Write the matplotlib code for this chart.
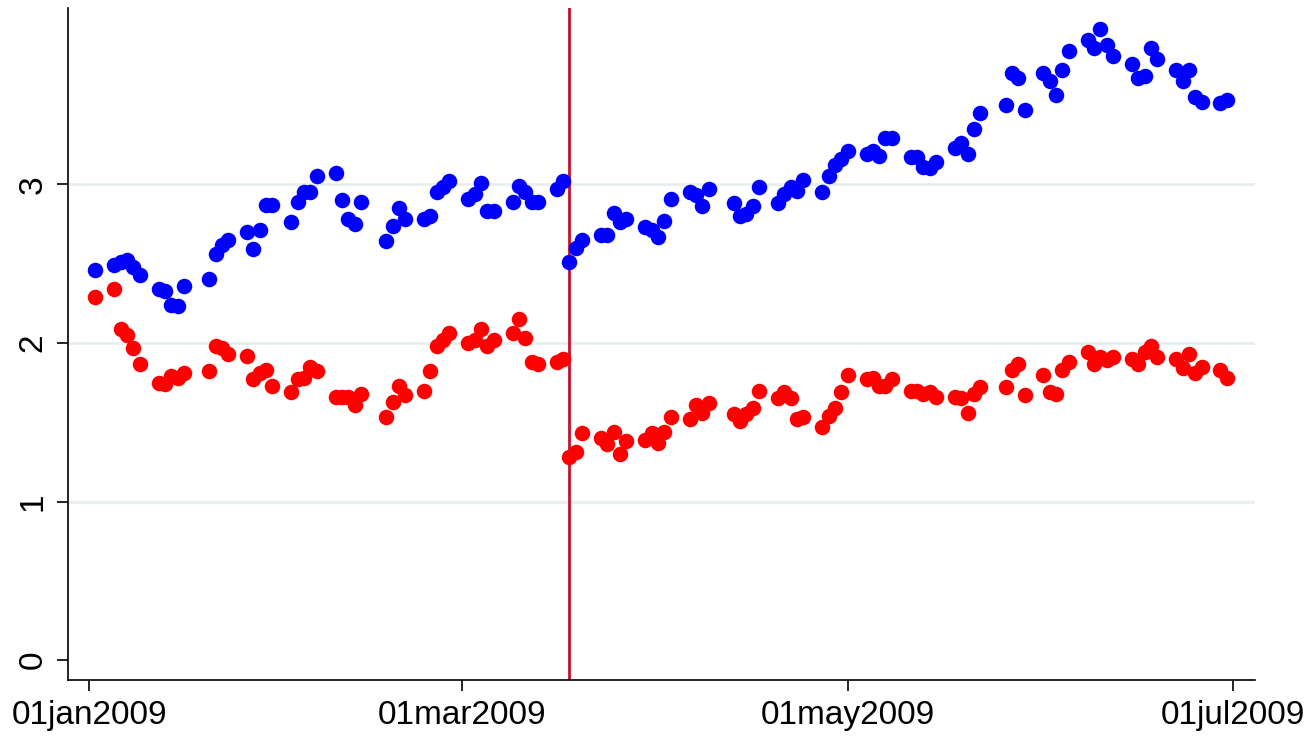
import numpy as np
import pandas as pd
import matplotlib
matplotlib.use('Agg')
import matplotlib.pyplot as plt
import matplotlib.dates as mdates

# business days, Jan 2 - Jun 30 2009 (market holidays skipped)
dates = [
    '2009-01-02',
    '2009-01-05', '2009-01-06', '2009-01-07', '2009-01-08', '2009-01-09',
    '2009-01-12', '2009-01-13', '2009-01-14', '2009-01-15', '2009-01-16',
    '2009-01-20', '2009-01-21', '2009-01-22', '2009-01-23',
    '2009-01-26', '2009-01-27', '2009-01-28', '2009-01-29', '2009-01-30',
    '2009-02-02', '2009-02-03', '2009-02-04', '2009-02-05', '2009-02-06',
    '2009-02-09', '2009-02-10', '2009-02-11', '2009-02-12', '2009-02-13',
    '2009-02-17', '2009-02-18', '2009-02-19', '2009-02-20',
    '2009-02-23', '2009-02-24', '2009-02-25', '2009-02-26', '2009-02-27',
    '2009-03-02', '2009-03-03', '2009-03-04', '2009-03-05', '2009-03-06',
    '2009-03-09', '2009-03-10', '2009-03-11', '2009-03-12', '2009-03-13',
    '2009-03-16', '2009-03-17', '2009-03-18', '2009-03-19', '2009-03-20',
    '2009-03-23', '2009-03-24', '2009-03-25', '2009-03-26', '2009-03-27',
    '2009-03-30', '2009-03-31', '2009-04-01', '2009-04-02', '2009-04-03',
    '2009-04-06', '2009-04-07', '2009-04-08', '2009-04-09',
    '2009-04-13', '2009-04-14', '2009-04-15', '2009-04-16', '2009-04-17',
    '2009-04-20', '2009-04-21', '2009-04-22', '2009-04-23', '2009-04-24',
    '2009-04-27', '2009-04-28', '2009-04-29', '2009-04-30', '2009-05-01',
    '2009-05-04', '2009-05-05', '2009-05-06', '2009-05-07', '2009-05-08',
    '2009-05-11', '2009-05-12', '2009-05-13', '2009-05-14', '2009-05-15',
    '2009-05-18', '2009-05-19', '2009-05-20', '2009-05-21', '2009-05-22',
    '2009-05-26', '2009-05-27', '2009-05-28', '2009-05-29',
    '2009-06-01', '2009-06-02', '2009-06-03', '2009-06-04', '2009-06-05',
    '2009-06-08', '2009-06-09', '2009-06-10', '2009-06-11', '2009-06-12',
    '2009-06-15', '2009-06-16', '2009-06-17', '2009-06-18', '2009-06-19',
    '2009-06-22', '2009-06-23', '2009-06-24', '2009-06-25', '2009-06-26',
    '2009-06-29', '2009-06-30',
]

blue = [
    2.46,
    2.49, 2.51, 2.52, 2.48, 2.43,
    2.34, 2.33, 2.24, 2.23, 2.36,
    2.40, 2.56, 2.62, 2.65,
    2.70, 2.59, 2.71, 2.87, 2.87,
    2.76, 2.89, 2.95, 2.95, 3.05,
    3.07, 2.90, 2.78, 2.75, 2.89,
    2.64, 2.74, 2.85, 2.78,
    2.78, 2.80, 2.95, 2.98, 3.02,
    2.91, 2.94, 3.01, 2.83, 2.83,
    2.89, 2.99, 2.95, 2.89, 2.89,
    2.97, 3.02, 2.51, 2.60, 2.65,
    2.68, 2.68, 2.82, 2.76, 2.78,
    2.73, 2.71, 2.67, 2.77, 2.91,
    2.95, 2.93, 2.86, 2.97,
    2.88, 2.80, 2.81, 2.86, 2.98,
    2.88, 2.94, 2.98, 2.96, 3.03,
    2.95, 3.05, 3.12, 3.16, 3.21,
    3.19, 3.21, 3.18, 3.29, 3.29,
    3.17, 3.17, 3.11, 3.10, 3.14,
    3.23, 3.26, 3.19, 3.35, 3.45,
    3.50, 3.70, 3.67, 3.47,
    3.70, 3.65, 3.56, 3.72, 3.84,
    3.91, 3.86, 3.98, 3.88, 3.81,
    3.76, 3.67, 3.68, 3.86, 3.79,
    3.72, 3.65, 3.72, 3.55, 3.52,
    3.51, 3.53,
]

red = [
    2.29,
    2.34, 2.09, 2.05, 1.97, 1.87,
    1.75, 1.74, 1.79, 1.78, 1.81,
    1.82, 1.98, 1.97, 1.93,
    1.92, 1.77, 1.81, 1.83, 1.73,
    1.69, 1.77, 1.78, 1.85, 1.82,
    1.66, 1.66, 1.66, 1.61, 1.68,
    1.53, 1.63, 1.73, 1.67,
    1.70, 1.82, 1.98, 2.02, 2.06,
    2.00, 2.02, 2.09, 1.98, 2.02,
    2.06, 2.15, 2.03, 1.88, 1.87,
    1.88, 1.90, 1.28, 1.31, 1.43,
    1.40, 1.36, 1.44, 1.30, 1.38,
    1.39, 1.43, 1.37, 1.44, 1.53,
    1.52, 1.61, 1.56, 1.62,
    1.55, 1.51, 1.55, 1.59, 1.70,
    1.65, 1.69, 1.65, 1.52, 1.53,
    1.47, 1.54, 1.59, 1.69, 1.80,
    1.77, 1.78, 1.73, 1.73, 1.77,
    1.70, 1.70, 1.68, 1.69, 1.66,
    1.66, 1.65, 1.56, 1.68, 1.72,
    1.72, 1.83, 1.87, 1.67,
    1.80, 1.69, 1.68, 1.83, 1.88,
    1.94, 1.87, 1.91, 1.89, 1.91,
    1.90, 1.87, 1.94, 1.98, 1.91,
    1.90, 1.84, 1.93, 1.81, 1.85,
    1.83, 1.78,
]

event_date = '2009-03-18'
tick_dates = ['2009-01-01', '2009-03-01', '2009-05-01', '2009-07-01']
tick_labels = ['01jan2009', '01mar2009', '01may2009', '01jul2009']

x = pd.to_datetime(dates)

plt.rcParams['font.family'] = ['Liberation Sans', 'DejaVu Sans']
fig = plt.figure(figsize=(13.13, 7.45), dpi=100)
ax = fig.add_axes([0.052, 0.087, 0.904, 0.902])

for yv in [1, 2, 3]:
    ax.axhline(yv, color='#e8eff0', lw=2, zorder=0)

ax.scatter(x, blue, s=125, color='#0000ff', zorder=3, linewidths=0)
ax.scatter(x, red, s=125, color='#ff0000', zorder=3, linewidths=0)
ax.axvline(pd.Timestamp(event_date), color='#c8102e', lw=2, zorder=2)

ax.set_xlim(pd.Timestamp('2009-01-01') - pd.Timedelta(days=3.3),
            pd.Timestamp('2009-01-01') + pd.Timedelta(days=184.5))
ax.set_ylim(-0.126, 4.11)
ax.set_xticks(pd.to_datetime(tick_dates))
ax.set_xticklabels(tick_labels, fontsize=24)
ax.set_yticks([0, 1, 2, 3])
ax.set_yticklabels(['0', '1', '2', '3'], fontsize=24, rotation=90, va='center')
ax.tick_params(length=8, width=1.2, color='black', pad=6)
for s in ['top', 'right']:
    ax.spines[s].set_visible(False)
for s in ['left', 'bottom']:
    ax.spines[s].set_linewidth(1.2)

fig.savefig('out.png', dpi=100)
